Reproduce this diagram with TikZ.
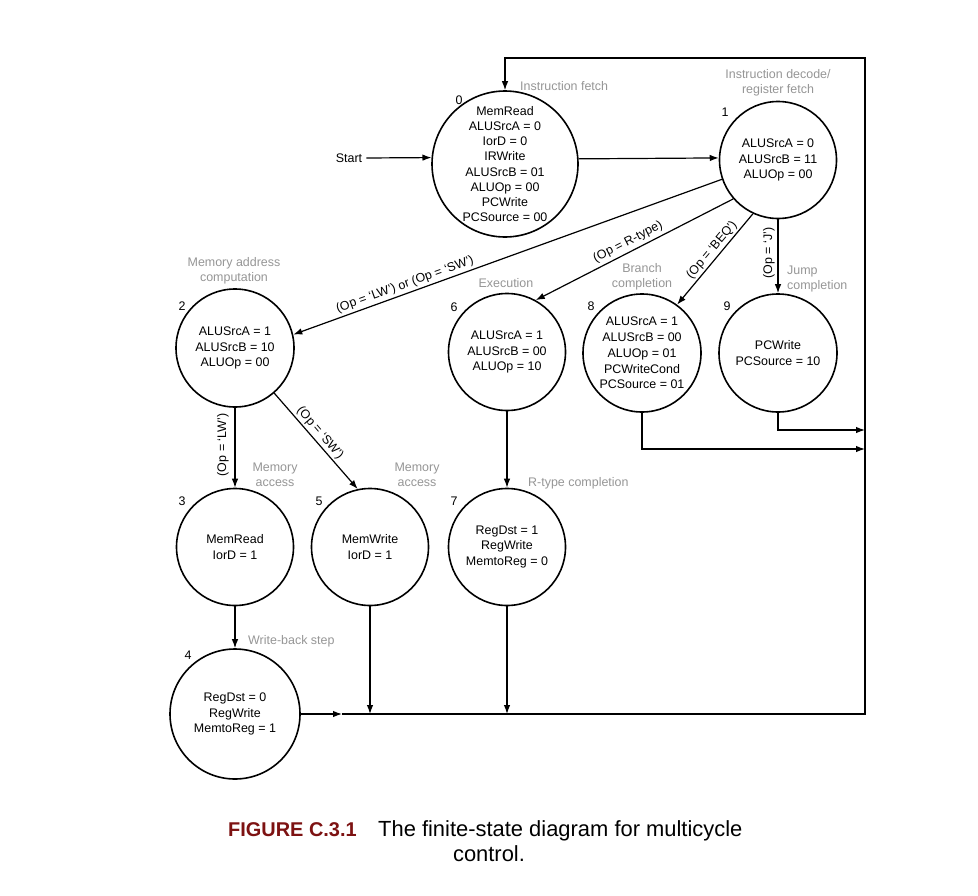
\documentclass[tikz,border=0pt]{standalone}
\usepackage{fontspec}
\setmainfont{Liberation Sans}
\usetikzlibrary{arrows.meta}
\definecolor{labgray}{RGB}{150,150,150}
\definecolor{figred}{RGB}{125,18,18}
\begin{document}
\begin{tikzpicture}[x=1bp,y=-1bp,
  every node/.style={font=\fontsize{12.5}{15.5}\selectfont, inner sep=0pt},
  st/.style={circle, draw, line width=1.6bp, align=center},
  glab/.style={text=labgray, align=center},
  arr/.style={-{Latex[length=9bp,width=6.5bp]}, line width=1.2bp},
  wire/.style={line width=1.2bp}]
\useasboundingbox (0,0) rectangle (978,896);
\fill[white] (0,0) rectangle (978,896);

% states
\node[st, minimum size=146bp, font=\fontsize{12.5}{15.2}\selectfont] (s0) at (505,164)
  {MemRead\\ALUSrcA = 0\\IorD = 0\\IRWrite\\ALUSrcB = 01\\ALUOp = 00\\PCWrite\\PCSource = 00};
\node[st, minimum size=117bp] (s1) at (778,160) {ALUSrcA = 0\\ALUSrcB = 11\\ALUOp = 00};
\node[st, minimum size=118bp] (s2) at (235,348) {ALUSrcA = 1\\ALUSrcB = 10\\ALUOp = 00};
\node[st, minimum size=117bp] (s6) at (507,352) {ALUSrcA = 1\\ALUSrcB = 00\\ALUOp = 10};
\node[st, minimum size=118bp, font=\fontsize{12.5}{15.9}\selectfont] (s8) at (642,353)
  {ALUSrcA = 1\\ALUSrcB = 00\\ALUOp = 01\\PCWriteCond\\PCSource = 01};
\node[st, minimum size=118bp] (s9) at (778,353) {PCWrite\\PCSource = 10};
\node[st, minimum size=117bp] (s3) at (235,547) {MemRead\\IorD = 1};
\node[st, minimum size=117bp] (s5) at (370,547) {MemWrite\\IorD = 1};
\node[st, minimum size=117bp] (s7) at (507,547) {RegDst = 1\\RegWrite\\MemtoReg = 0};
\node[st, minimum size=130bp] (s4) at (235,714) {RegDst = 0\\RegWrite\\MemtoReg = 1};

% state numbers
\node (n0) at (459,100) {0};
\node (n1) at (725,112) {1};
\node (n2) at (182,306) {2};
\node (n6) at (454,307) {6};
\node (n8) at (591,306) {8};
\node (n9) at (727,306) {9};
\node (n3) at (182,501) {3};
\node (n5) at (319,501) {5};
\node (n7) at (454,501) {7};
\node (n4) at (188,655) {4};

% gray step labels
\node[glab, anchor=west] (g0) at (520,86) {Instruction fetch};
\node[glab] (g1) at (778,83) {Instruction decode/\\register fetch};
\node[glab] (g2) at (234,271) {Memory address\\computation};
\node[glab] (g6) at (506,283) {Execution};
\node[glab] (g8) at (642,277) {Branch\\completion};
\node[glab, anchor=west, align=left] (g9) at (787,279) {Jump\\completion};
\node[glab] (g3) at (275,475) {Memory\\access};
\node[glab] (g5) at (417,475) {Memory\\access};
\node[glab, anchor=west] (g7) at (528,483) {R-type completion};
\node[glab, anchor=west] (g4) at (248,641) {Write-back step};

% start
\node (start) at (349,158) {Start};
\draw[arr] ([xshift=4bp]start.east) -- (s0.175.3);
\draw[arr] (s0.4.7) -- (s1.178);

% transitions from state 1
\draw[arr] (s1.199.6) -- (s2.13.6);
\draw[arr] (s1.221.6) -- (s6.61.8);
\draw[arr] (s1.245) -- (s8.54.8);
\draw[arr] (s1.south) -- (s9.north);
\node[rotate=19.8] (l2) at (405,285) {(Op = ‘LW’) or (Op = ‘SW’)};
\node[rotate=27] (l6) at (628,242) {(Op = R-type)};
\node[rotate=50] (l8) at (712,250) {(Op = ‘BEQ’)};
\node[rotate=90] (l9) at (769,253) {(Op = ‘J’)};

% transitions from state 2
\draw[arr] (s2.south) -- (s3.north);
\draw[arr] (s2.311) -- (s5.102);
\node[rotate=90] (l3) at (223,445) {(Op = ‘LW’)};
\node[rotate=-49.5] (l5) at (320,433) {(Op = ‘SW’)};

\draw[arr] (s3.south) -- (s4.north);
\draw[arr] (s6.south) -- (s7.north);

% return paths
\coordinate (m4) at (342,714);
\coordinate (br) at (865,714);
\coordinate (tr) at (865,58);
\coordinate (j9) at (865,430);
\coordinate (j8) at (865,449);
\draw[arr] (s4.east |- m4) -- (m4);
\draw[arr] (m4) -- (br) -- (tr) -| (s0.north);
\draw[arr] (s5.south) -- (s5.south |- br);
\draw[arr] (s7.south) -- (s7.south |- br);
\draw[arr] (s9.south) |- (j9);
\draw[arr] (s8.south) |- (j8);

% caption
\node[anchor=base west, font=\fontsize{20}{24}\selectfont\bfseries, text=figred] (figlab) at (228,836) {FIGURE C.3.1};
\node[anchor=base west, font=\fontsize{22}{26}\selectfont] (cap1) at (378,836) {The finite-state diagram for multicycle};
\node[anchor=base, font=\fontsize{22}{26}\selectfont] (cap2) at (489,861) {control.};
\end{tikzpicture}
\end{document}
